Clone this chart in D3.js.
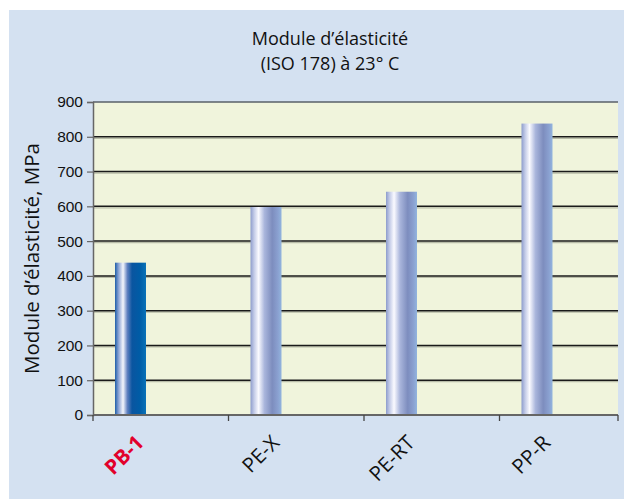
<!DOCTYPE html>
<html>
<head>
<meta charset="utf-8">
<script src="https://cdn.jsdelivr.net/npm/d3@7"></script>
<style>
  html, body { margin: 0; padding: 0; background: #ffffff; }
  svg { display: block; font-family: "Open Sans", "Noto Sans", sans-serif; }
</style>
</head>
<body>
<div id="chart"></div>
<script>
// Chart data
const categories = ['PB-1', 'PE-X', 'PE-RT', 'PP-R'];
const values = [438, 598, 642, 838];
const yTicks = [0, 100, 200, 300, 400, 500, 600, 700, 800, 900];
const titleLines = ['Module d\u2019élasticité', '(ISO 178) à 23° C'];
const yLabel = 'Module d\u2019élasticité, MPa';

const width = 624, height = 499;
const plot = { left: 93, right: 618, top: 102, bottom: 415 };

const svg = d3.select('#chart')
    .append('svg')
    .attr('width', width)
    .attr('height', height);

// Gradients for the cylinders
const defs = svg.append('defs');
function addGradient(id, stops) {
    const g = defs.append('linearGradient')
        .attr('id', id)
        .attr('x1', '0%').attr('x2', '100%')
        .attr('y1', '0%').attr('y2', '0%');
    stops.forEach(s => g.append('stop').attr('offset', s[0]).attr('stop-color', s[1]));
}
addGradient('gradMain', [
    ['0%', '#1f5ea8'], ['12%', '#8fa6d6'], ['26%', '#f4f6fc'],
    ['40%', '#5f80c0'], ['55%', '#0a55a0'], ['80%', '#005ca6'], ['100%', '#0a72b8']
]);
addGradient('gradOther', [
    ['0%', '#8d9ccc'], ['12%', '#c4cce8'], ['26%', '#fafaff'],
    ['45%', '#aab6dc'], ['70%', '#7d8dbe'], ['88%', '#8aa0d0'], ['100%', '#92b4de']
]);

// Backgrounds
svg.append('rect')
    .attr('x', 9).attr('y', 10)
    .attr('width', width - 9).attr('height', height - 10)
    .attr('fill', '#d4e1f1');

svg.append('rect')
    .attr('x', plot.left).attr('y', plot.top)
    .attr('width', plot.right - plot.left).attr('height', plot.bottom - plot.top)
    .attr('fill', '#f0f4dc');

// Scales
const x = d3.scaleBand()
    .domain(categories)
    .range([plot.left, plot.left + 4 * 135.5]);

const y = d3.scaleLinear()
    .domain([0, 900])
    .range([plot.bottom, plot.top]);

// Grid lines
const grid = svg.append('g');
yTicks.filter(t => t > 0 && t < 900).forEach(t => {
    grid.append('line')
        .attr('x1', plot.left).attr('x2', plot.right)
        .attr('y1', y(t) + 1.5).attr('y2', y(t) + 1.5)
        .attr('stroke', '#b8bca8').attr('stroke-width', 1.2);
    grid.append('line')
        .attr('x1', plot.left).attr('x2', plot.right)
        .attr('y1', y(t)).attr('y2', y(t))
        .attr('stroke', '#1a1a1a').attr('stroke-width', 1.5);
});
// top border
grid.append('line')
    .attr('x1', plot.left).attr('x2', plot.right)
    .attr('y1', y(900)).attr('y2', y(900))
    .attr('stroke', '#5a6068').attr('stroke-width', 1.5);

// Bars
const barW = 31;
svg.append('g')
    .selectAll('rect')
    .data(categories)
    .enter()
    .append('rect')
    .attr('x', d => x(d) + 22)
    .attr('y', (d, i) => y(values[i]))
    .attr('width', barW)
    .attr('height', (d, i) => y(0) - y(values[i]))
    .attr('fill', (d, i) => i === 0 ? 'url(#gradMain)' : 'url(#gradOther)');

// Y axis
const yAxis = svg.append('g')
    .attr('transform', `translate(${plot.left},0)`)
    .call(d3.axisLeft(y).tickValues(yTicks).tickSize(6).tickPadding(4));
yAxis.select('.domain').attr('stroke', '#666').attr('stroke-width', 1.5);
yAxis.selectAll('.tick line').attr('stroke', '#666').attr('stroke-width', 1.2);
yAxis.selectAll('.tick text')
    .attr('fill', '#111')
    .style('font-size', '15.5px');

// X axis
const xAxis = svg.append('g')
    .attr('transform', `translate(0,${plot.bottom})`);
xAxis.append('line')
    .attr('x1', plot.left).attr('x2', plot.right)
    .attr('y1', 0).attr('y2', 0)
    .attr('stroke', '#666').attr('stroke-width', 2);
const tickXs = categories.map(c => x(c)).concat([plot.right]);
xAxis.selectAll('.xtick')
    .data(tickXs)
    .enter()
    .append('line')
    .attr('x1', d => d).attr('x2', d => d)
    .attr('y1', 0).attr('y2', 6)
    .attr('stroke', '#444').attr('stroke-width', 1.3);

// X labels
svg.append('g')
    .selectAll('text')
    .data(categories)
    .enter()
    .append('text')
    .attr('transform', d => `translate(${x(d) + 22 + barW - 6},${plot.bottom + 24}) rotate(-45)`)
    .attr('text-anchor', 'end')
    .attr('dy', '0.35em')
    .style('font-size', '20.5px')
    .style('font-weight', (d, i) => i === 0 ? 'bold' : 'normal')
    .attr('fill', (d, i) => i === 0 ? '#e2002b' : '#111')
    .text(d => d);

// Title
svg.append('g')
    .selectAll('text')
    .data(titleLines)
    .enter()
    .append('text')
    .attr('x', 330)
    .attr('y', (d, i) => 45 + i * 25)
    .attr('text-anchor', 'middle')
    .style('font-size', '18px')
    .attr('fill', '#111')
    .text(d => d);

// Y label
svg.append('text')
    .attr('transform', `translate(39,${(plot.top + plot.bottom) / 2}) rotate(-90)`)
    .attr('text-anchor', 'middle')
    .style('font-size', '20.5px')
    .attr('fill', '#111')
    .text(yLabel);
</script>
</body>
</html>
